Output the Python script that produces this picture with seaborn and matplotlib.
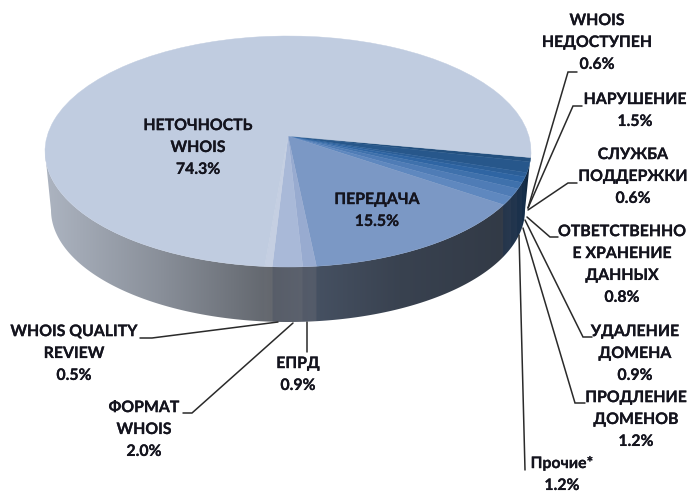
import numpy as np
import matplotlib.pyplot as plt
import matplotlib.patheffects as pe
from matplotlib.colors import to_rgb
from matplotlib.patches import Polygon
import seaborn as sns

# Slices clockwise, starting just under the 3 o'clock position
labels = ['WHOIS\nНЕДОСТУПЕН', 'НАРУШЕНИЕ', 'СЛУЖБА\nПОДДЕРЖКИ',
          'ОТВЕТСТВЕННО\nЕ ХРАНЕНИЕ\nДАННЫХ', 'УДАЛЕНИЕ\nДОМЕНА',
          'ПРОДЛЕНИЕ\nДОМЕНОВ', 'Прочие*', 'ПЕРЕДАЧА', 'ЕПРД',
          'ФОРМАТ\nWHOIS', 'WHOIS QUALITY\nREVIEW', 'НЕТОЧНОСТЬ\nWHOIS']
values = [0.6, 1.5, 0.6, 0.8, 0.9, 1.2, 1.2, 15.5, 0.9, 2.0, 0.5, 74.3]

# label centres and leader lines, in image pixels
label_xy = [(597, 43), (635, 111), (633, 177), (622, 265), (635, 354), (636, 420),
            (562, 475), (377, 211), (298, 375), (144, 430), (74, 354), (198, 148)]
leaders = [[(528, 208), (568, 72), (577, 72)],
           [(528, 208), (573, 106), (582, 106)],
           [(528, 210), (568, 183), (577, 183)],
           [(527, 217), (550, 237), (558, 237)],
           [(525, 220), (583, 337), (592, 337)],
           [(523, 228), (575, 403), (585, 403)],
           [(519, 235), (525, 470)],
           [],
           [(307, 322), (307, 352)],
           [(293, 323), (192, 413), (183, 413)],
           [(278, 322), (152, 338), (140, 338)],
           []]

W, H = 689, 493
cx, cy, rx, ry = 288, 151.5, 243, 115.5   # top face
bx, by, brx, bry = 288, 210, 237, 112     # bottom rim of the side wall
start_angle = -3
apex_y = 136                              # perspective: the hub sits above the ellipse centre

sns.set_theme(style='white')
plt.rcParams['font.family'] = ['Lato', 'Noto Sans', 'DejaVu Sans']

small = sns.blend_palette(['#23507f', '#2f65a3', '#5f88bf'], 7)
colors = [to_rgb(c) for c in small] + [to_rgb(c) for c in ['#7b98c5', '#98abd0', '#a9b9d8', '#c5cfe2', '#c0cce0']]

fig = plt.figure(figsize=(W / 100, H / 100), dpi=100)
ax_px = fig.add_axes([0, 0, 1, 1])

# side wall: each column takes the colour of the slice in front of it, darkened left to right
xs = np.arange(cx - rx, cx + rx + 1)
theta = -np.degrees(np.arccos(np.clip((xs - cx) / rx, -1, 1)))
theta = np.minimum(theta, start_angle - 0.01)
frac = (start_angle - theta) / 360 * sum(values)
idx = np.searchsorted(np.cumsum(values), frac).clip(0, len(values) - 1)
shade = np.interp(xs, [45, 160, 270, 312, 400, 500, 532], [0.88, 0.70, 0.50, 0.53, 0.43, 0.38, 0.48])
side = np.array(colors)[idx] * shade[:, None]
# the big slices go greyer on the wall than the thin dark ones
grey = side.mean(axis=1, keepdims=True)
side = np.where((idx >= 7)[:, None], 0.72 * side + 0.28 * grey, side)
im = ax_px.imshow(side[None, :, :], extent=(xs[0], xs[-1], by + bry, cy), aspect='auto', interpolation='bilinear')
t = np.radians(np.linspace(0, 180, 200))
rim_top = np.c_[cx + rx * np.cos(t), cy + ry * np.sin(t)]
rim_bot = np.c_[bx + brx * np.cos(t[::-1]), by + bry * np.sin(t[::-1])]
im.set_clip_path(Polygon(np.vstack([rim_top, rim_bot]), transform=ax_px.transData))

for pts in leaders:
    if pts:
        ax_px.plot(*zip(*pts), color='#2a2a2a', lw=1.1, solid_joinstyle='miter')

ax_px.set_xlim(0, W)
ax_px.set_ylim(H, 0)
ax_px.axis('off')

# top face: an ordinary pie squashed into the ellipse by its axes box
ax_pie = fig.add_axes([(cx - rx) / W, 1 - (cy + ry) / H, 2 * rx / W, 2 * ry / H])
wedges, _ = ax_pie.pie(values, colors=colors, startangle=start_angle, counterclock=False, radius=1)
ax_pie.set_aspect('auto')
ax_pie.set_xlim(-1, 1)
ax_pie.set_ylim(-1, 1)
ax_pie.patch.set_alpha(0)

# move the hub of every wedge up, the outer arcs stay where they are
for w in wedges:
    w.set_edgecolor(w.get_facecolor())
    w.set_linewidth(0.3)
    verts = w.get_path().vertices
    verts[np.hypot(verts[:, 0], verts[:, 1]) < 1e-6, 1] = (cy - apex_y) / ry

outline = [pe.withStroke(linewidth=0.15, foreground='#14141e')]
for lab, val, (x, y) in zip(labels, values, label_xy):
    ax_pie.text(x, y, f'{lab}\n{val:.1f}%', transform=ax_px.transData, ha='center', va='center',
                ma='center', fontsize=11.4, fontweight='bold', color='#14141e', linespacing=1.72,
                clip_on=False, path_effects=outline)

fig.savefig('out.png', dpi=100)
